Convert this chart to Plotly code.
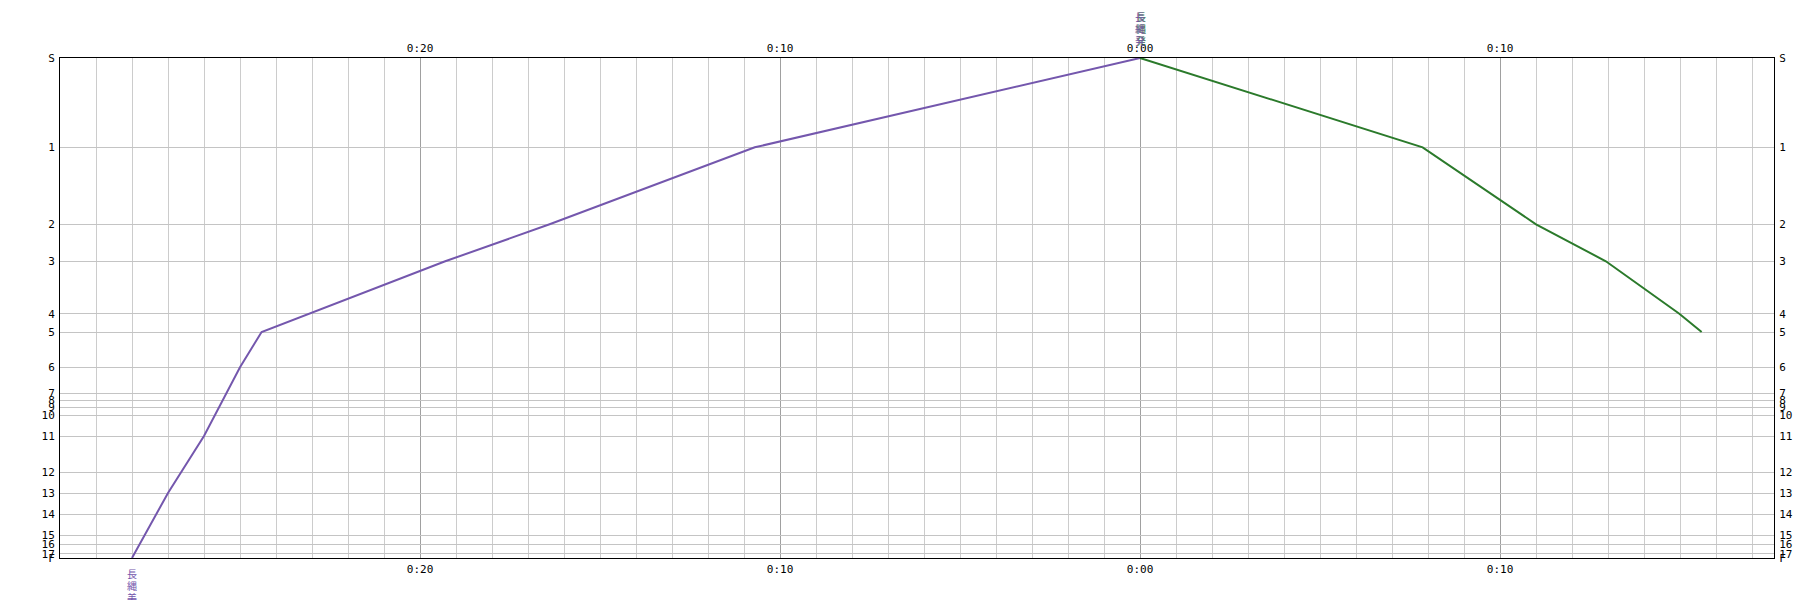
import plotly.graph_objects as go

# Stations (top to bottom) and their positions along the line (distance units)
stations = ["S", "1", "2", "3", "4", "5", "6", "7", "8", "9", "10",
            "11", "12", "13", "14", "15", "16", "17", "F"]
station_pos = [0, 89.3, 166.3, 203.3, 255.7, 274.0, 309.3, 335.3, 342.3, 349.0,
               357.0, 378.0, 414.0, 435.0, 456.3, 477.3, 486.3, 495.7, 500.0]

# Time axis ticks (minutes relative to 0:00)
time_tickvals = [-20, -10, 0, 10]
time_ticktext = ["0:20", "0:10", "0:00", "0:10"]

# Purple train: F -> S
purple_stops = ["F", "13", "11", "6", "5", "3", "2", "1", "S"]
purple_times = [-28.0, -27.0, -26.0, -25.0, -24.4, -19.3, -16.4, -10.7, 0.0]

# Green train: S -> 5
green_stops = ["S", "1", "2", "3", "4", "5"]
green_times = [0.0, 7.85, 11.0, 12.94, 14.98, 15.6]

label_top = "長縄発"
label_bottom = "長縄美"

pos = dict(zip(stations, station_pos))
PURPLE = "#7457ad"
GREEN = "#2b7a2b"
FONT = dict(family="DejaVu Sans Mono", size=11, color="black")

fig = go.Figure()
fig.add_trace(go.Scatter(x=purple_times, y=[pos[s] for s in purple_stops],
                         mode="lines", line=dict(color=PURPLE, width=2),
                         showlegend=False, hoverinfo="skip"))
fig.add_trace(go.Scatter(x=green_times, y=[pos[s] for s in green_stops],
                         mode="lines", line=dict(color=GREEN, width=2),
                         showlegend=False, hoverinfo="skip", xaxis="x2", yaxis="y2"))

xr = [-30, 17.61]
yr = [500, 0]

common_x = dict(range=xr, tickmode="array", tickvals=time_tickvals, ticktext=time_ticktext,
                showgrid=True, gridcolor="#a0a0a0", gridwidth=1, ticks="",
                tickfont=FONT, zeroline=False, showline=True, linecolor="black",
                linewidth=1, ticklabelstandoff=1,
                minor=dict(tickmode="linear", tick0=0, dtick=1, showgrid=True,
                           gridcolor="#cccccc", gridwidth=1, ticks=""))
common_y = dict(range=yr, tickmode="array", tickvals=station_pos, ticktext=stations,
                showgrid=True, gridcolor="#c4c4c4", gridwidth=1, ticks="",
                tickfont=FONT, zeroline=False, showline=True, linecolor="black",
                linewidth=1, ticklabelstandoff=2)

fig.update_layout(
    width=1818, height=600,
    margin=dict(l=52, r=52, t=50, b=50),
    plot_bgcolor="white", paper_bgcolor="white",
    xaxis=dict(side="bottom", **common_x),
    xaxis2=dict(side="top", overlaying="x", anchor="y", **common_x),
    yaxis=dict(side="left", **common_y),
    yaxis2=dict(side="right", overlaying="y", anchor="x", **common_y),
    showlegend=False,
)

CJK = "Noto Sans CJK JP"


def vertical_label(text, x, y_paper, first_shift, step, color, xshift=0):
    # one character per row, stacked vertically with tight spacing
    for i, ch in enumerate(text):
        fig.add_annotation(x=x, y=y_paper, xref="x", yref="paper", text=ch,
                           showarrow=False, yanchor="middle", borderpad=0,
                           yshift=first_shift + i * step, xshift=xshift,
                           font=dict(family=CJK, size=10, color=color))


vertical_label(label_top, 0, 1, 42, -12, GREEN, xshift=1)
vertical_label(label_top, 0, 1, 42, -12, PURPLE)
vertical_label(label_bottom, purple_times[0], 0, -15, -12, PURPLE)

fig.write_html("out.html")
